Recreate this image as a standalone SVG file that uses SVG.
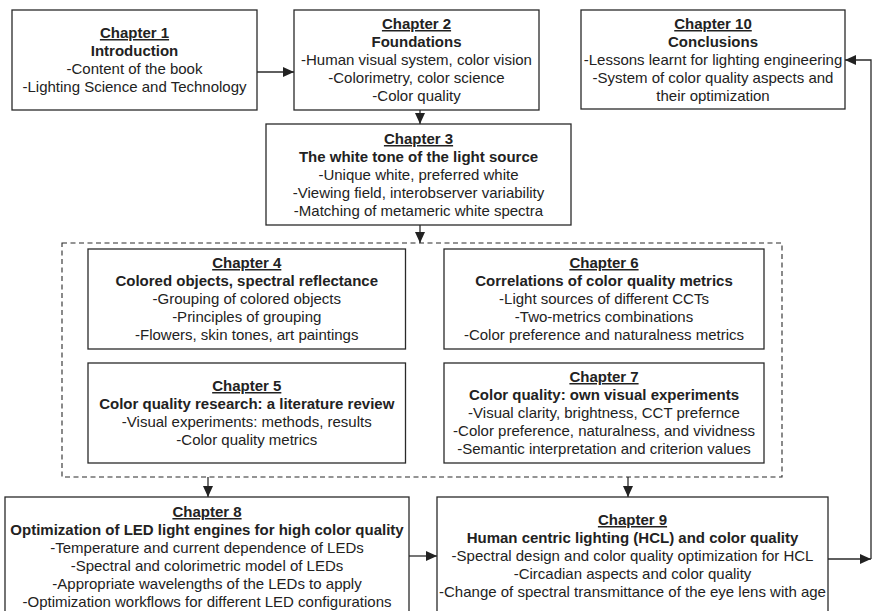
<svg xmlns="http://www.w3.org/2000/svg" width="872" height="611" viewBox="0 0 872 611">
<defs>
<marker id="ah" viewBox="0 0 11 10" refX="11" refY="5" markerWidth="11" markerHeight="10" markerUnits="userSpaceOnUse" orient="auto">
<path d="M0,0 L11,5 L0,10 Z" fill="#222"/>
</marker>
</defs>
<style>
.box{fill:#fff;stroke:#2a2a2a;stroke-width:1.3}
text{font-family:"Liberation Sans",Arial,sans-serif;font-size:15px;fill:#222;text-anchor:middle}
.h{font-weight:bold;text-decoration:underline}
.b{font-weight:bold}
.c{fill:none;stroke:#2a2a2a;stroke-width:1.3}
.dash{fill:none;stroke:#2a2a2a;stroke-width:1.1;stroke-dasharray:5,3.5}
</style>
<rect width="872" height="611" fill="#fff"/>
<g id="group-dashed"><rect class="dash" x="62" y="243" width="720" height="234"/></g>
<g id="ch1"><rect class="box" x="12" y="10" width="245" height="100"/>
<text x="134.5" y="38" class="h">Chapter 1</text>
<text x="134.5" y="56" class="b">Introduction</text>
<text x="134.5" y="74">-Content of the book</text>
<text x="134.5" y="92">-Lighting Science and Technology</text></g>
<g id="ch2"><rect class="box" x="294" y="10" width="245" height="100"/>
<text x="416.5" y="29" class="h">Chapter 2</text>
<text x="416.5" y="47" class="b">Foundations</text>
<text x="416.5" y="65">-Human visual system, color vision</text>
<text x="416.5" y="83">-Colorimetry, color science</text>
<text x="416.5" y="101">-Color quality</text></g>
<g id="ch10"><rect class="box" x="581" y="10" width="264" height="99"/>
<text x="713" y="29" class="h">Chapter 10</text>
<text x="713" y="47" class="b">Conclusions</text>
<text x="713" y="65">-Lessons learnt for lighting engineering</text>
<text x="713" y="83">-System of color quality aspects and</text>
<text x="713" y="101">their optimization</text></g>
<g id="ch3"><rect class="box" x="266" y="124" width="305" height="101"/>
<text x="418.5" y="144" class="h">Chapter 3</text>
<text x="418.5" y="162" class="b">The white tone of the light source</text>
<text x="418.5" y="180">-Unique white, preferred white</text>
<text x="418.5" y="198">-Viewing field, interobserver variability</text>
<text x="418.5" y="216">-Matching of metameric white spectra</text></g>
<g id="ch4"><rect class="box" x="88" y="249" width="317.5" height="100"/>
<text x="246.75" y="268" class="h">Chapter 4</text>
<text x="246.75" y="286" class="b">Colored objects, spectral reflectance</text>
<text x="246.75" y="304">-Grouping of colored objects</text>
<text x="246.75" y="322">-Principles of grouping</text>
<text x="246.75" y="340">-Flowers, skin tones, art paintings</text></g>
<g id="ch5"><rect class="box" x="88" y="363" width="317.5" height="100"/>
<text x="246.75" y="391" class="h">Chapter 5</text>
<text x="246.75" y="409" class="b">Color quality research: a literature review</text>
<text x="246.75" y="427">-Visual experiments: methods, results</text>
<text x="246.75" y="445">-Color quality metrics</text></g>
<g id="ch6"><rect class="box" x="444" y="249" width="320" height="100"/>
<text x="604" y="268" class="h">Chapter 6</text>
<text x="604" y="286" class="b">Correlations of color quality metrics</text>
<text x="604" y="304">-Light sources of different CCTs</text>
<text x="604" y="322">-Two-metrics combinations</text>
<text x="604" y="340">-Color preference and naturalness metrics</text></g>
<g id="ch7"><rect class="box" x="444" y="363" width="320" height="100"/>
<text x="604" y="382" class="h">Chapter 7</text>
<text x="604" y="400" class="b">Color quality: own visual experiments</text>
<text x="604" y="418">-Visual clarity, brightness, CCT prefernce</text>
<text x="604" y="436">-Color preference, naturalness, and vividness</text>
<text x="604" y="454">-Semantic interpretation and criterion values</text></g>
<g id="ch8"><rect class="box" x="5" y="497" width="404" height="118"/>
<text x="207" y="517" class="h">Chapter 8</text>
<text x="207" y="535" class="b">Optimization of LED light engines for high color quality</text>
<text x="207" y="553">-Temperature and current dependence of LEDs</text>
<text x="207" y="571">-Spectral and colorimetric model of LEDs</text>
<text x="207" y="589">-Appropriate wavelengths of the LEDs to apply</text>
<text x="207" y="607">-Optimization workflows for different LED configurations</text></g>
<g id="ch9"><rect class="box" x="437" y="497" width="391" height="118"/>
<text x="632.5" y="525" class="h">Chapter 9</text>
<text x="632.5" y="543" class="b">Human centric lighting (HCL) and color quality</text>
<text x="632.5" y="561">-Spectral design and color quality optimization for HCL</text>
<text x="632.5" y="579">-Circadian aspects and color quality</text>
<text x="632.5" y="597">-Change of spectral transmittance of the eye lens with age</text></g>
<g id="connectors">
<line class="c" x1="257" y1="72" x2="294" y2="72" marker-end="url(#ah)"/>
<line class="c" x1="420" y1="110" x2="420" y2="124" marker-end="url(#ah)"/>
<line class="c" x1="420" y1="225" x2="420" y2="243" marker-end="url(#ah)"/>
<line class="c" x1="208" y1="477" x2="208" y2="497" marker-end="url(#ah)"/>
<line class="c" x1="628" y1="477" x2="628" y2="497" marker-end="url(#ah)"/>
<line class="c" x1="409" y1="556" x2="437" y2="556" marker-end="url(#ah)"/>
<line class="c" x1="828" y1="559" x2="871" y2="559" marker-end="url(#ah)"/>
<polyline class="c" points="871,559 871,60 845,60" marker-end="url(#ah)"/>
</g>
</svg>
